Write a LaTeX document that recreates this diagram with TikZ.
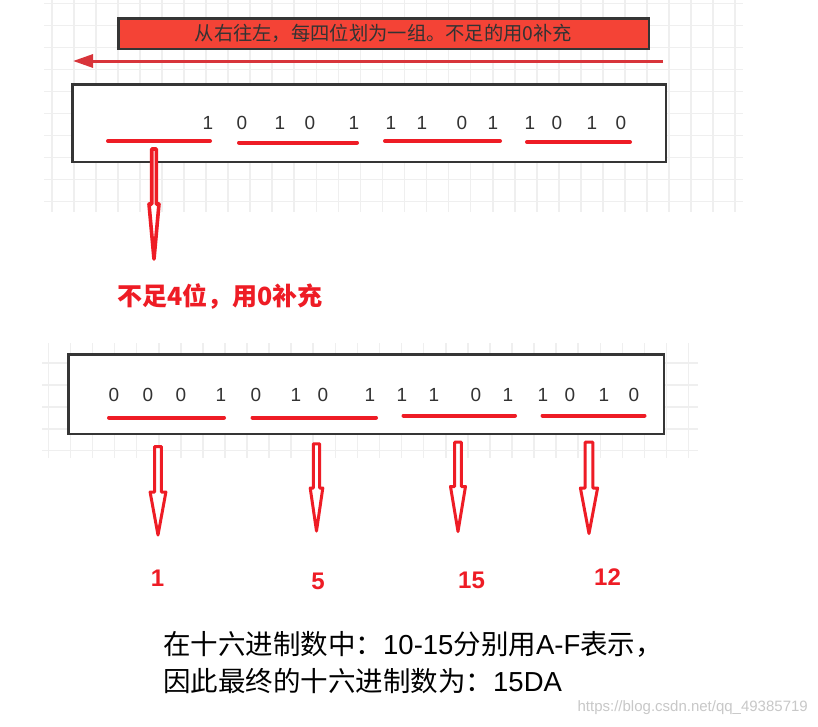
\documentclass[tikz,border=0pt]{standalone}
\usepackage{fontspec}
\setmainfont{Liberation Sans}
\newfontfamily\cjk{Noto Sans CJK SC}
\usetikzlibrary{arrows.meta}
\definecolor{gridc}{HTML}{EFEFEF}
\definecolor{boxborder}{HTML}{353535}
\definecolor{redfill}{HTML}{F44336}
\definecolor{markred}{HTML}{EE1C25}
\definecolor{darrow}{HTML}{D8343A}
\definecolor{digitc}{HTML}{333333}
\definecolor{wmc}{HTML}{C8C8C8}
% #1 name, #2 x, #3 top y, #4 head y, #5 tip y, #6 shaft half width, #7 head half width
\newcommand\blockarr[7]{%
  \coordinate (#1) at (#2,#3);
  \draw[hollowarrow] ({#2-#6},#3) -- ({#2+#6},#3) -- ({#2+#6},#4) -- ({#2+#7},#4)
    -- (#2,#5) -- ({#2-#7},#4) -- ({#2-#6},#4) -- cycle;}
\begin{document}
\begin{tikzpicture}[x=1pt,y=-1pt,
  gridline/.style={draw=gridc,line width=1.6pt},
  bigbox/.style={draw=boxborder,line width=2.5pt,fill=white,inner sep=0pt},
  digit/.style={font=\fontsize{19}{22}\selectfont,text=digitc,inner sep=0pt},
  uline/.style={draw=markred,line width=4pt,line cap=round},
  hollowarrow/.style={draw=markred,line width=3pt,fill=white,line join=round},
  numlabel/.style={font=\fontsize{24}{27}\selectfont\bfseries,text=markred,inner sep=0pt},
  toparrow/.style={draw=darrow,line width=3pt,-{Triangle[length=20pt,width=13pt]}},
  note/.style={font=\fontsize{27.5}{30}\selectfont,text=black,inner sep=0pt,anchor=west}]
\useasboundingbox (0,0) rectangle (818,726);
\fill[white] (0,0) rectangle (818,726);
% top grid
\foreach \i in {0,...,31} \draw[gridline] ({51.7+22.05*\i},0) -- ({51.7+22.05*\i},212);
\foreach \j in {0,...,9} \draw[gridline] (44,{3.5+22*\j}) -- (743,{3.5+22*\j});
% bottom grid
\foreach \i in {0,...,29} \draw[gridline] ({48.3+22.08*\i},343) -- ({48.3+22.08*\i},458);
\foreach \j in {0,...,4} \draw[gridline] (42,{363+21.9*\j}) -- (698,{363+21.9*\j});

% top red banner
\node[draw=boxborder,line width=2.5pt,fill=redfill,minimum width=530.5pt,minimum height=30.5pt,inner sep=0pt]
  (banner) at (383.5,33.5) {\cjk\fontsize{19.3}{22}\selectfont\color{digitc}从右往左，每四位划为一组。不足的用0补充};
% direction arrow
\coordinate (dirstart) at (663,61);
\coordinate (dirend) at (73,61);
\draw[toparrow] (dirstart) -- (dirend);

% top box
\node[bigbox,minimum width=593.5pt,minimum height=77.5pt] (topbox) at (369,123) {};
\foreach \x/\d [count=\i] in {208/1,242/0,280/1,310/0,354/1,391/1,422/1,462/0,493/1,530/1,557/0,592/1,621/0}
  \node[digit] (t\i) at (\x,123) {\d};
\coordinate (ua1) at (108,141); \coordinate (ub1) at (210,141);
\coordinate (ua2) at (239,142.5); \coordinate (ub2) at (357,142.5);
\coordinate (ua3) at (385,141); \coordinate (ub3) at (500,141);
\coordinate (ua4) at (527,142); \coordinate (ub4) at (630,142);
\foreach \k in {1,...,4} \draw[uline] (ua\k) -- (ub\k);

% arrow from first group
\begin{scope}[hollowarrow/.append style={line width=3.6pt}]
\blockarr{fill0}{154}{149}{204}{259}{2.3}{5}
\end{scope}
\node[font=\cjk\fontsize{25}{28}\selectfont\bfseries,text=markred,inner sep=0pt] (fillnote) at (220,297) {不足4位，用0补充};

% bottom box
\node[bigbox,minimum width=595.5pt,minimum height=79.5pt] (botbox) at (366,394) {};
\foreach \x/\d [count=\i] in {114/0,148/0,181/0,221/1,256/0,296/1,323/0,370/1,402/1,434/1,476/0,508/1,543/1,570/0,604/1,634/0}
  \node[digit] (b\i) at (\x,395) {\d};
\coordinate (va1) at (109,417.5); \coordinate (vb1) at (224,417.5);
\coordinate (va2) at (252.5,417.5); \coordinate (vb2) at (376,417.5);
\coordinate (va3) at (403.5,415.5); \coordinate (vb3) at (515,415.5);
\coordinate (va4) at (542.5,415.5); \coordinate (vb4) at (644.5,415.5);
\foreach \k in {1,...,4} \draw[uline] (va\k) -- (vb\k);

% result arrows
\blockarr{r1}{158}{446.5}{492}{535}{3.3}{7.9}
\blockarr{r2}{316.5}{443.8}{488}{531}{3.1}{6.3}
\blockarr{r3}{458}{442.2}{486.5}{531.5}{3.4}{7.5}
\blockarr{r4}{589}{442.2}{488}{533.5}{3.9}{8.6}
\node[numlabel] (n1) at (157.5,578) {1};
\node[numlabel] (n2) at (318,581.5) {5};
\node[numlabel] (n3) at (471.5,580) {15};
\node[numlabel] (n4) at (607.5,577) {12};

% explanation
\node[note] (line1) at (163,644) {{\cjk 在十六进制数中：}10-15{\cjk 分别用}A-F{\cjk 表示，}};
\node[note] (line2) at (163,681) {{\cjk 因此最终的十六进制数为：}15DA};
\node[font=\fontsize{15}{17}\selectfont,text=wmc,inner sep=0pt,anchor=east] (wm) at (808,708) {https://blog.csdn.net/qq\_49385719};
\end{tikzpicture}
\end{document}
